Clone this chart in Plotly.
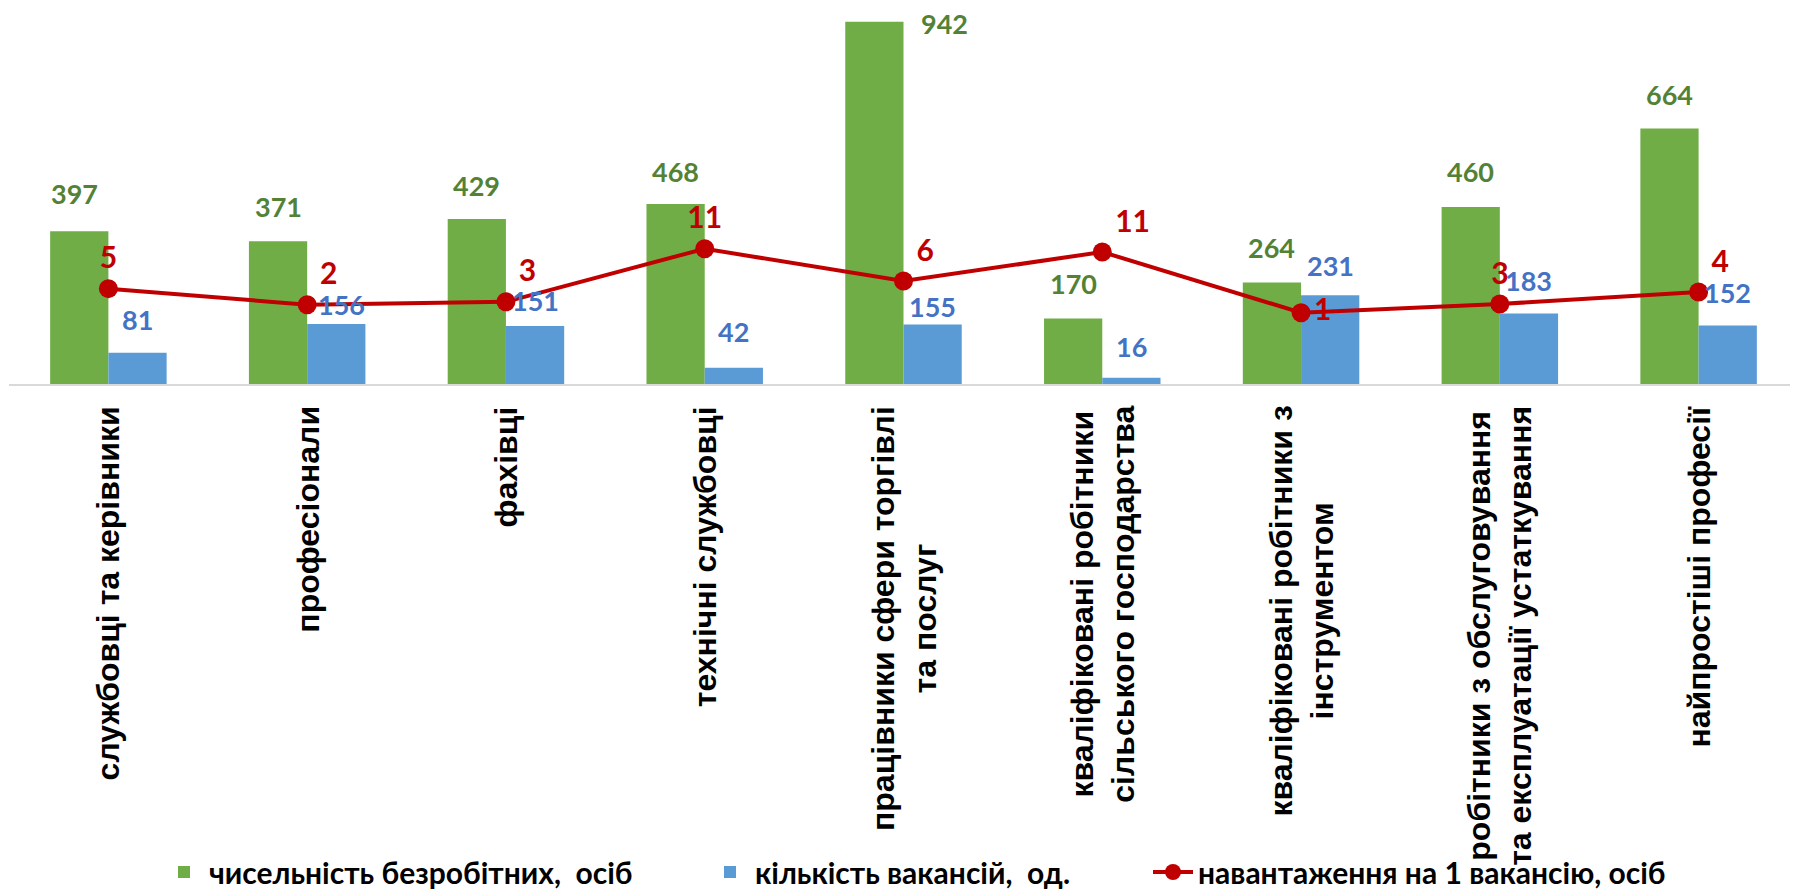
import plotly.graph_objects as go

# ---- data ----
categories = [
    "службовці та керівники",
    "професіонали",
    "фахівці",
    "технічні службовці",
    "працівники сфери торгівлі та послуг",
    "кваліфіковані робітники сільського господарства",
    "кваліфіковані робітники з інструментом",
    "робітники з обслуговування та експлуатації устаткування",
    "найпростіші професії",
]
tick_labels = [
    "службовці та керівники",
    "професіонали",
    "фахівці",
    "технічні службовці",
    "працівники сфери торгівлі<br>та послуг",
    "кваліфіковані робітники<br>сільського господарства",
    "кваліфіковані робітники з<br>інструментом",
    "робітники з обслуговування<br>та експлуатації устаткування",
    "найпростіші професії",
]
unemployed = [397, 371, 429, 468, 942, 170, 264, 460, 664]
vacancies = [81, 156, 151, 42, 155, 16, 231, 183, 152]
load_per_vacancy = [4.9, 2.38, 2.84, 11.14, 6.08, 10.63, 1.14, 2.51, 4.37]

series_names = [
    "чисельність безробітних,  осіб",
    "кількість вакансій,  од.",
    "навантаження на 1 вакансію, осіб",
]

# ---- styles ----
GREEN = "#70AD47"
BLUE = "#5B9BD5"
RED = "#C00000"
GREEN_TXT = "#548235"
BLUE_TXT = "#4472C4"
LABEL_FONT = "Lato, 'Open Sans', sans-serif"
TICK_FONT = "'Liberation Sans', Arial, sans-serif"

W, H = 1798, 890
ML, MR, MT, MB = 1, 8, 0, 514
BARGAP = 0.414
cat_px = (W - ML - MR) / len(categories)
bar_px = cat_px * (1 - BARGAP) / 2
plot_h = H - MT - MB

# per-label style offsets (px)
green_dx = [-5, 0, 0, 0, 70, 0, 0, 0, 0]
green_gap = [22, 19, 18, 17, None, 20, 19, 20, 19]
blue_dx = [0, 5, 0, 0, 0, 0, 0, 0, 0]
blue_gap = [18, 4, 10, 21, 2, 16, 14, 18, 18]
line_textpos = ["top center", "top right", "top right", "top center", "top right",
                "top right", "middle right", "top center", "top right"]
legend_widths = [491, 388, None]

fig = go.Figure()
fig.add_trace(go.Bar(
    x=categories, y=unemployed, name=series_names[0],
    marker=dict(color=GREEN, line=dict(width=0)), legendwidth=legend_widths[0],
))
fig.add_trace(go.Bar(
    x=categories, y=vacancies, name=series_names[1],
    marker=dict(color=BLUE, line=dict(width=0)), legendwidth=legend_widths[1],
))
fig.add_trace(go.Scatter(
    x=categories, y=load_per_vacancy, name=series_names[2], yaxis="y2",
    mode="lines+markers+text",
    line=dict(color=RED, width=4),
    marker=dict(color=RED, size=19),
    text=load_per_vacancy, texttemplate="%{y:.0f}",
    textposition=line_textpos,
    textfont=dict(family=LABEL_FONT, size=30, color=RED, weight="bold"),
    cliponaxis=False,
))

annotations = []
DESC = 3
for i, c in enumerate(categories):
    if green_gap[i] is None:
        annotations.append(dict(
            x=c, y=unemployed[i], xref="x", yref="y", text=str(unemployed[i]),
            showarrow=False, xanchor="center", yanchor="middle",
            xshift=-bar_px / 2 + green_dx[i], yshift=-2,
            font=dict(family=LABEL_FONT, size=27, color=GREEN_TXT, weight="bold"),
        ))
    else:
        annotations.append(dict(
            x=c, y=unemployed[i], xref="x", yref="y", text=str(unemployed[i]),
            showarrow=False, xanchor="center", yanchor="bottom",
            xshift=-bar_px / 2 + green_dx[i], yshift=green_gap[i] - DESC,
            font=dict(family=LABEL_FONT, size=27, color=GREEN_TXT, weight="bold"),
        ))
    annotations.append(dict(
        x=c, y=vacancies[i], xref="x", yref="y", text=str(vacancies[i]),
        showarrow=False, xanchor="center", yanchor="bottom",
        xshift=bar_px / 2 + blue_dx[i], yshift=blue_gap[i] - DESC,
        font=dict(family=LABEL_FONT, size=27, color=BLUE_TXT, weight="bold"),
    ))
    # category labels (rotated, centred lines)
    annotations.append(dict(
        x=c, y=0, xref="x", yref="paper", text=tick_labels[i],
        showarrow=False, xanchor="center", yanchor="top", yshift=-20,
        textangle=-90, align="center",
        font=dict(family=TICK_FONT, size=32, color="#000000", weight="bold"),
    ))

fig.update_layout(
    width=W, height=H,
    margin=dict(l=ML, r=MR, t=MT, b=MB, pad=0),
    paper_bgcolor="white", plot_bgcolor="white",
    barmode="group", bargap=BARGAP, bargroupgap=0,
    xaxis=dict(
        type="category", range=[-0.5, len(categories) - 0.5], autorange=False,
        showticklabels=False, ticks="",
        showline=True, linecolor="#D9D9D9", linewidth=1.5,
        showgrid=False, zeroline=False,
    ),
    yaxis=dict(range=[0, 977.6], autorange=False, visible=False, showgrid=False, zeroline=False),
    yaxis2=dict(range=[-10, 48.75], autorange=False, overlaying="y", side="right", visible=False,
                showgrid=False, zeroline=False),
    legend=dict(
        orientation="h", x=(151 - ML) / (W - ML - MR), xanchor="left",
        y=(plot_h - H) / plot_h, yanchor="bottom",
        font=dict(family=LABEL_FONT, size=30, color="#000000", weight="bold"),
        itemwidth=40, tracegroupgap=0, bgcolor="rgba(0,0,0,0)",
    ),
    annotations=annotations,
    showlegend=True,
)

fig.write_html("out.html")
